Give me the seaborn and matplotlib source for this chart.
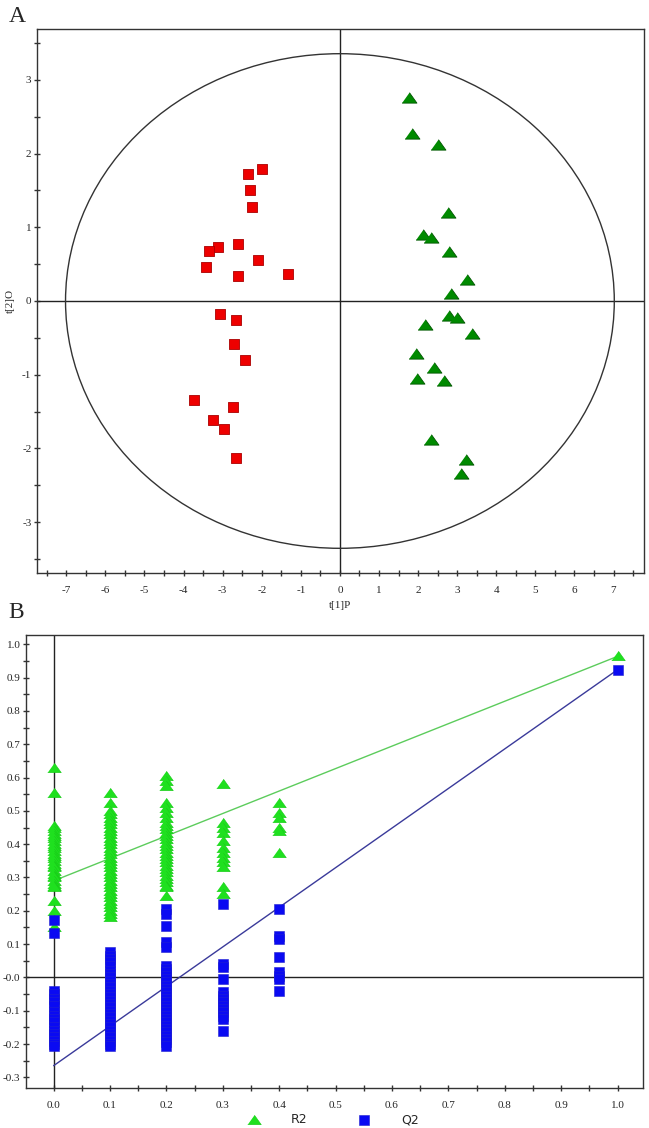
import numpy as np
import pandas as pd
import matplotlib
matplotlib.use('Agg')
import matplotlib.pyplot as plt
import seaborn as sns
from matplotlib.patches import Ellipse
from matplotlib.ticker import MultipleLocator, FixedLocator, FixedFormatter

# ---- Panel A : OPLS-DA score plot ----
red_t1 = [-1.99, -2.35, -2.31, -2.26, -2.61, -3.13, -3.34, -2.09, -3.42, -2.61,
          -1.33, -3.06, -2.65, -2.70, -2.42, -3.73, -2.73, -3.24, -2.97, -2.65]
red_t2 = [1.79, 1.72, 1.50, 1.28, 0.78, 0.73, 0.68, 0.56, 0.46, 0.34,
          0.37, -0.17, -0.26, -0.58, -0.80, -1.34, -1.44, -1.61, -1.74, -2.13]
green_t1 = [1.76, 1.85, 2.52, 2.76, 2.12, 2.33, 2.80, 3.26, 2.85, 2.78,
            2.99, 2.17, 3.38, 1.95, 2.41, 1.98, 2.67, 2.32, 3.23, 3.09]
green_t2 = [2.75, 2.26, 2.12, 1.20, 0.89, 0.85, 0.66, 0.29, 0.09, -0.21,
            -0.23, -0.33, -0.45, -0.72, -0.91, -1.06, -1.08, -1.88, -2.16, -2.35]
ellipse_a = 7.02   # Hotelling T2 half-width
ellipse_b = 3.355  # half-height

# ---- Panel B : permutation test (R2 / Q2) ----
perm_x = [0.0, 0.1, 0.2, 0.3, 0.4]
r2_00 = [0.63, 0.555, 0.455, 0.45, 0.44, 0.43, 0.425, 0.42, 0.41, 0.40, 0.395, 0.39,
         0.38, 0.37, 0.365, 0.36, 0.35, 0.34, 0.335, 0.33, 0.32, 0.31, 0.305, 0.30,
         0.29, 0.28, 0.275, 0.27, 0.228, 0.198, 0.15]
r2_01 = [0.554, 0.524, 0.50, 0.49, 0.48, 0.47, 0.46, 0.45, 0.44, 0.43, 0.42, 0.41,
         0.40, 0.39, 0.38, 0.37, 0.36, 0.35, 0.34, 0.33, 0.32, 0.31, 0.30, 0.29,
         0.28, 0.27, 0.26, 0.25, 0.24, 0.23, 0.22, 0.21, 0.20, 0.19, 0.18]
r2_02 = [0.604, 0.589, 0.574, 0.524, 0.509, 0.494, 0.479, 0.465, 0.455, 0.445,
         0.435, 0.425, 0.415, 0.405, 0.395, 0.385, 0.375, 0.365, 0.355, 0.345,
         0.335, 0.325, 0.315, 0.305, 0.295, 0.285, 0.275, 0.27, 0.245]
r2_03 = [0.58, 0.465, 0.45, 0.435, 0.41, 0.39, 0.375, 0.36, 0.345, 0.33, 0.27, 0.25]
r2_04 = [0.525, 0.495, 0.48, 0.45, 0.44, 0.375]
q2_00 = [0.172, 0.132, -0.04, -0.05, -0.065, -0.075, -0.085, -0.105, -0.115,
         -0.125, -0.135, -0.15, -0.16, -0.17, -0.18, -0.19, -0.20, -0.205]
q2_01 = [0.075, 0.065, 0.055, 0.045, 0.035, 0.02, 0.01, 0.0, -0.01, -0.02, -0.03,
         -0.04, -0.05, -0.06, -0.07, -0.08, -0.09, -0.10, -0.11, -0.12, -0.13,
         -0.14, -0.15, -0.16, -0.17, -0.18, -0.19, -0.20, -0.205]
q2_02 = [0.205, 0.19, 0.155, 0.105, 0.09, 0.035, 0.025, 0.015, 0.005, -0.005,
         -0.015, -0.025, -0.035, -0.045, -0.055, -0.065, -0.075, -0.085, -0.095,
         -0.105, -0.115, -0.125, -0.135, -0.145, -0.155, -0.165, -0.175, -0.185,
         -0.195, -0.205]
q2_03 = [0.221, 0.04, 0.03, -0.005, -0.045, -0.055, -0.065, -0.075, -0.085,
         -0.095, -0.105, -0.115, -0.125, -0.16]
q2_04 = [0.205, 0.125, 0.115, 0.06, 0.015, 0.005, -0.005, -0.04]
model_x = 1.0
r2_model = 0.964
q2_model = 0.924
r2_intercept = 0.29
q2_intercept = -0.265

b_yticks = [-0.3, -0.2, -0.1, 0.0, 0.1, 0.2, 0.3, 0.4, 0.5, 0.6, 0.7, 0.8, 0.9, 1.0]
b_ylabels = ['-0.3', '-0.2', '-0.1', '-0.0', '0.1', '0.2', '0.3', '0.4', '0.5',
             '0.6', '0.7', '0.8', '0.9', '1.0']
b_xticks = [0.0, 0.1, 0.2, 0.3, 0.4, 0.5, 0.6, 0.7, 0.8, 0.9, 1.0]
b_xlabels = ['0.0', '0.1', '0.2', '0.3', '0.4', '0.5', '0.6', '0.7', '0.8', '0.9', '1.0']

# build tables
score_df = pd.DataFrame({
    't1': red_t1 + green_t1,
    't2': red_t2 + green_t2,
    'group': ['red'] * len(red_t1) + ['green'] * len(green_t1),
})
r2_cols = [r2_00, r2_01, r2_02, r2_03, r2_04]
q2_cols = [q2_00, q2_01, q2_02, q2_03, q2_04]
rows = []
for xv, col in zip(perm_x, r2_cols):
    rows += [(xv, v, 'R2') for v in col]
rows.append((model_x, r2_model, 'R2'))
for xv, col in zip(perm_x, q2_cols):
    rows += [(xv, v, 'Q2') for v in col]
rows.append((model_x, q2_model, 'Q2'))
perm_df = pd.DataFrame(rows, columns=['x', 'value', 'stat'])

sns.set_style('ticks')
plt.rcParams['font.family'] = ['Liberation Serif', 'DejaVu Serif']
plt.rcParams['axes.unicode_minus'] = False

W, H = 649, 1128
fig = plt.figure(figsize=(W / 100, H / 100), dpi=100)

tri = [(-1, -0.62), (1, -0.62), (0, 0.78)]

# ---------- panel A ----------
ax1 = fig.add_axes([37 / W, 1 - 573 / H, (644 - 37) / W, (573 - 29) / H])
ax1.axhline(0, color='#222222', lw=1, zorder=1)
ax1.axvline(0, color='#222222', lw=1, zorder=1)
ax1.add_patch(Ellipse((0, 0), 2 * ellipse_a, 2 * ellipse_b, fill=False,
                      ec='#333333', lw=1, zorder=1))
red = score_df[score_df.group == 'red']
green = score_df[score_df.group == 'green']
sns.scatterplot(data=red, x='t1', y='t2', marker='s', s=60, color='#ee0000',
                edgecolor='#aa0000', linewidth=0.6, ax=ax1, zorder=3)
sns.scatterplot(data=green, x='t1', y='t2', marker=tri, s=115, color='#008a00',
                edgecolor='#005500', linewidth=0.6, ax=ax1, zorder=3)
ax1.set_xlim(-7.75, 7.78)
ax1.set_ylim(-3.69, 3.69)
ax1.xaxis.set_major_locator(MultipleLocator(1))
ax1.xaxis.set_minor_locator(MultipleLocator(0.5))
ax1.yaxis.set_major_locator(MultipleLocator(1))
ax1.yaxis.set_minor_locator(MultipleLocator(0.5))
ax1.set_xlabel('t[1]P', fontsize=8, labelpad=4)
ax1.set_ylabel('t[2]O', fontsize=8)
ax1.yaxis.set_label_coords(-0.036, 0.5)

# ---------- panel B ----------
ax2 = fig.add_axes([26 / W, 1 - 1088 / H, (643 - 26) / W, (1088 - 635) / H])
ax2.axhline(0, color='#222222', lw=1, zorder=1)
ax2.axvline(0, color='#222222', lw=1, zorder=1)
ax2.plot([0, model_x], [r2_intercept, r2_model], color='#5ccc5c', lw=1, zorder=2)
ax2.plot([0, model_x], [q2_intercept, q2_model], color='#3a3a9a', lw=1, zorder=2)
sns.scatterplot(data=perm_df[perm_df.stat == 'R2'], x='x', y='value', marker=tri,
                s=95, color='#1fe01f', edgecolor='#17c817', linewidth=0.4,
                ax=ax2, zorder=3, label='R2')
sns.scatterplot(data=perm_df[perm_df.stat == 'Q2'], x='x', y='value', marker='s',
                s=45, color='#0a0af2', edgecolor='#2020d0', linewidth=0.4,
                ax=ax2, zorder=4, label='Q2')
ax2.set_xlim(-0.049, 1.045)
ax2.set_ylim(-0.332, 1.028)
ax2.xaxis.set_major_locator(FixedLocator(b_xticks))
ax2.xaxis.set_major_formatter(FixedFormatter(b_xlabels))
ax2.xaxis.set_minor_locator(MultipleLocator(0.05))
ax2.yaxis.set_major_locator(FixedLocator(b_yticks))
ax2.yaxis.set_major_formatter(FixedFormatter(b_ylabels))
ax2.yaxis.set_minor_locator(MultipleLocator(0.05))
ax2.set_xlabel('')
ax2.set_ylabel('')
ax2.legend(loc='center', bbox_to_anchor=(0.493, -0.07), ncol=2, frameon=False,
           prop={'family': 'DejaVu Sans', 'size': 9}, handletextpad=2.0,
           columnspacing=3.5, borderaxespad=0)

for ax in (ax1, ax2):
    for sp in ax.spines.values():
        sp.set_color('#333333')
        sp.set_linewidth(1)
        sp.set_visible(True)
    ax.tick_params(which='both', direction='inout', length=5, width=1,
                   color='#333333', labelsize=8)
    ax.tick_params(axis='x', which='major', pad=7)
    ax.tick_params(axis='y', which='major', pad=1.5)

fig.text(9 / W, 1 - 17 / H, 'A', fontsize=17, va='center', ha='left')
fig.text(8 / W, 1 - 613 / H, 'B', fontsize=17, va='center', ha='left')

fig.savefig('out.png', dpi=100)
